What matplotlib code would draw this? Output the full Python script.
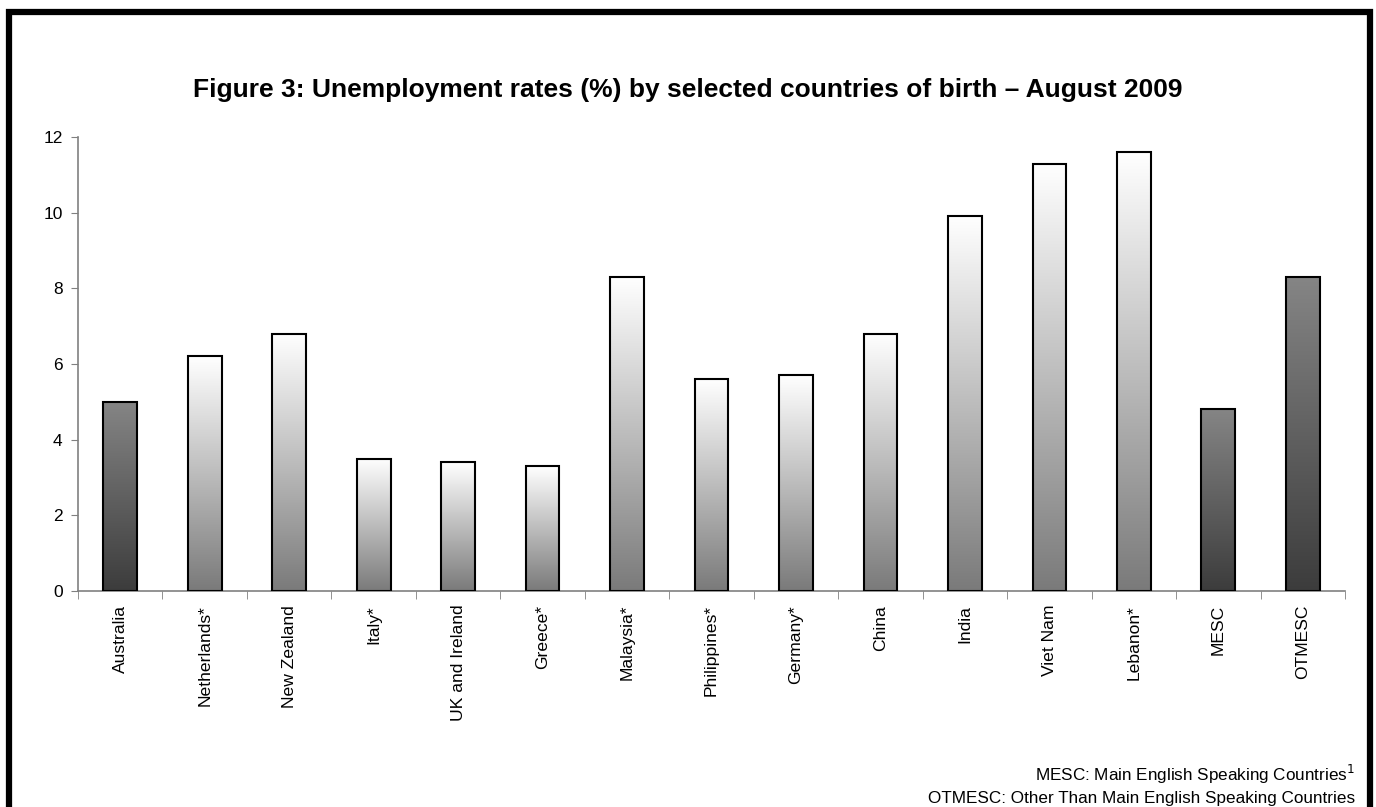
import matplotlib.pyplot as plt
import numpy as np
from matplotlib.colors import LinearSegmentedColormap
from matplotlib.patches import Rectangle

countries = ['Australia', 'Netherlands*', 'New Zealand', 'Italy*', 'UK and Ireland',
             'Greece*', 'Malaysia*', 'Philippines*', 'Germany*', 'China', 'India',
             'Viet Nam', 'Lebanon*', 'MESC', 'OTMESC']
rates = [5.0, 6.2, 6.8, 3.5, 3.4, 3.3, 8.3, 5.6, 5.7, 6.8, 9.9, 11.3, 11.6, 4.8, 8.3]
dark_group = ['Australia', 'MESC', 'OTMESC']

plt.rcParams['font.family'] = ['Liberation Sans', 'DejaVu Sans']

fig = plt.figure(figsize=(13.76, 8.07), dpi=100)
ax = fig.add_axes([0.0567, 0.2677, 0.9208, 0.5625])

dark_cmap = LinearSegmentedColormap.from_list('dark', ['#3c3c3c', '#858585'])
light_cmap = LinearSegmentedColormap.from_list('light', ['#7a7a7a', '#ffffff'])
grad = np.linspace(0, 1, 256).reshape(-1, 1)

x = np.arange(len(countries))
bar_w = 0.4
bars = ax.bar(x, rates, width=bar_w, color='none', edgecolor='black', linewidth=1.5, zorder=3)
for bar, name in zip(bars, countries):
    x0, y0 = bar.get_x(), bar.get_y()
    w, h = bar.get_width(), bar.get_height()
    cmap = dark_cmap if name in dark_group else light_cmap
    im = ax.imshow(grad, cmap=cmap, origin='lower', aspect='auto',
                   extent=[x0, x0 + w, y0, y0 + h], zorder=2)
    im.set_clip_path(bar)

ax.set_xlim(-0.5, len(countries) - 0.5)
ax.set_ylim(0, 12)
ax.set_yticks(range(0, 13, 2))
ax.tick_params(axis='y', labelsize=12.5, length=5, color='#808080', pad=6)

ax.set_xticks(x)
ax.set_xticklabels(countries, rotation=90, fontsize=12.6)
ax.tick_params(axis='x', length=0, pad=10)
ax.set_xticks(np.arange(-0.5, len(countries), 1), minor=True)
ax.tick_params(axis='x', which='minor', length=6, color='#808080')

for side in ['top', 'right']:
    ax.spines[side].set_visible(False)
for side in ['left', 'bottom']:
    ax.spines[side].set_color('#808080')
    ax.spines[side].set_linewidth(1.2)

fig.text(0.5, 0.888, 'Figure 3: Unemployment rates (%) by selected countries of birth \u2013 August 2009',
         ha='center', va='center', fontsize=19, fontweight='bold')

fig.text(0.985, 0.040, 'MESC: Main English Speaking Countries$^1$', ha='right', va='center', fontsize=12.3)
fig.text(0.985, 0.011, 'OTMESC: Other Than Main English Speaking Countries', ha='right', va='center', fontsize=12.3)

fig.patches.append(Rectangle((0.0065, -0.05), 0.9895, 1.035, transform=fig.transFigure,
                             fill=False, edgecolor='black', linewidth=4.5))

fig.savefig('out.png', dpi=100)
